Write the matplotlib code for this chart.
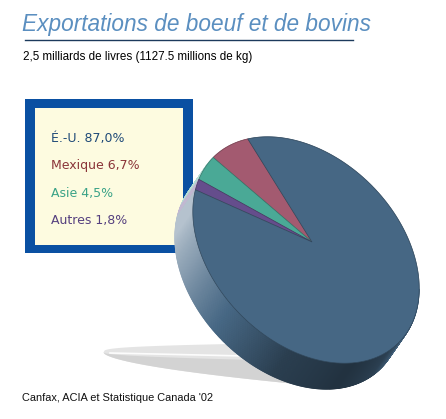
import numpy as np
import matplotlib
matplotlib.use('Agg')
import matplotlib.pyplot as plt
from matplotlib.patches import Polygon, Rectangle
from matplotlib.collections import PolyCollection
from matplotlib.colors import to_rgb

# data
labels = ["É.-U.", "Mexique", "Asie", "Autres"]
shares = [87.0, 6.7, 4.5, 1.8]
value_labels = ["87,0%", "6,7%", "4,5%", "1,8%"]
slice_colors = ["#466784", "#a35a70", "#4aa996", "#654d8c"]
text_colors = ["#1f4a78", "#8a3438", "#3aa287", "#55407f"]

title = "Exportations de boeuf et de bovins"
subtitle = "2,5 milliards de livres (1127.5 millions de kg)"
source = "Canfax, ACIA et Statistique Canada '02"

# pie geometry (pixels, y down)
cx, cy = 306, 250
apex = (312, 242)   # slices meet here (perspective)
a, b = 131, 92
e1 = np.array([0.7071, 0.7071])
e2 = np.array([0.7071, -0.7071])
depth = np.array([-18, 26])
start = 156.0  # angle where Mexique starts, then going round


def rim(theta):
    th = np.radians(theta)
    pts = (np.array([cx, cy])[None, :] + a * np.cos(th)[:, None] * e1
           + b * np.sin(th)[:, None] * e2)
    return pts


def shade(col, s):
    c = np.array(to_rgb(col))
    if s >= 0:
        return c + (1 - c) * s
    return c * (1 + s)


fig = plt.figure(figsize=(4.46, 4.19), dpi=100)
ax = fig.add_axes([0, 0, 1, 1])
ax.set_xlim(0, 446)
ax.set_ylim(419, 0)
ax.axis('off')

# titles
ax.text(22, 24, title, fontsize=16.3, style='italic', color='#5b8fc0',
        family='Liberation Sans', va='center', ha='left')
ax.plot([25, 353], [40, 40], color='#1c3a5c', lw=1)
ax.text(23, 57, subtitle, fontsize=8.4, color='black',
        family='Liberation Sans', va='center', ha='left')
ax.text(22, 398, source, fontsize=7.9, color='#111111',
        family='Liberation Sans', va='center', ha='left')

# legend box
ax.add_patch(Rectangle((25, 99), 168, 154, facecolor='#0a50a2', edgecolor='none', zorder=1))
ax.add_patch(Rectangle((35, 108), 148, 137, facecolor='#fdfbe0', edgecolor='none', zorder=2))
for i in range(len(labels)):
    ax.text(51, 138 + i * 27.5, labels[i] + " " + value_labels[i], fontsize=9,
            color=text_colors[i], family='DejaVu Sans', va='center', ha='left', zorder=3)

# shadow on the floor
xs = np.linspace(103, 322, 200)
t = (xs - 103) / 219
upper = 352 - 10 * t ** 0.3
lower = 352 + 34 * t ** 0.6
mid = 352 + 9 * t ** 0.5
ax.fill_between(xs, upper, lower, color='#e4e4e4', lw=0, zorder=3)
ax.fill_between(xs, mid, lower, color='#d3d3d3', lw=0, zorder=3)
hx = np.linspace(110, 245, 50)
ax.plot(hx, 353 + 3 * (hx - 110) / 135, color='white', lw=1.2, alpha=0.9, zorder=3)

# slice boundaries
bounds = [start]
for s in shares[1:] + shares[:1]:
    bounds.append(bounds[-1] + s * 3.6)
order = [1, 2, 3, 0]


def slice_at(theta):
    th = (theta - start) % 360
    acc = 0
    for k in order:
        acc += shares[k] * 3.6
        if th <= acc:
            return k
    return 0


# side of the disc
n_seg = 720
thetas = np.linspace(0, 360, n_seg + 1)
top = rim(thetas)
polys = []
cols = []
for j in range(n_seg):
    tm = (thetas[j] + thetas[j + 1]) / 2
    th = np.radians(tm)
    nrm = np.cos(th) / a * e1 + np.sin(th) / b * e2
    psi = np.degrees(np.arctan2(-nrm[1], nrm[0])) % 360
    s = np.interp(psi, [120, 150, 180, 200, 222, 245, 275, 305, 325, 345],
                  [0.55, 0.6, 0.6, 0.35, -0.02, -0.4, -0.52, -0.38, -0.1, 0.0])
    p0, p1 = top[j], top[j + 1]
    polys.append([p0, p1, p1 + depth, p0 + depth])
    cols.append(shade(slice_colors[slice_at(tm)], s))
ax.add_collection(PolyCollection(polys, facecolors=cols, edgecolors=cols,
                                 linewidths=0.6, zorder=4))

# top face
for i, k in enumerate(order):
    t0, t1 = bounds[i], bounds[i + 1]
    arc = rim(np.linspace(t0, t1, max(int((t1 - t0) * 2), 4)))
    pts = np.vstack([apex, arc])
    ax.add_patch(Polygon(pts, closed=True, facecolor=slice_colors[k],
                         edgecolor=shade(slice_colors[k], -0.3), lw=0.5, zorder=5))

fig.savefig('out.png', dpi=100)
